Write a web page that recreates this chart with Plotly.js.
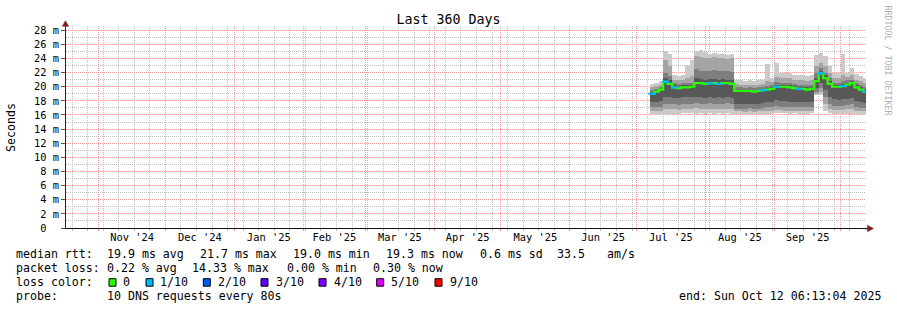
<!DOCTYPE html>
<html><head><meta charset="utf-8">
<script src="https://cdn.plot.ly/plotly-3.0.1.min.js"></script>
<style>html,body{margin:0;padding:0;background:#fff;}#chart{width:897px;height:310px;}</style>
</head><body><div id="chart"></div>
<script>
// ---- data (ms), 2-day bins ----
const dates = ['2025-07-08','2025-07-10','2025-07-12','2025-07-14','2025-07-16','2025-07-18','2025-07-20','2025-07-22','2025-07-24','2025-07-26','2025-07-28','2025-07-30',
'2025-08-01','2025-08-03','2025-08-05','2025-08-07','2025-08-09','2025-08-11','2025-08-13','2025-08-15','2025-08-17','2025-08-19','2025-08-21','2025-08-23','2025-08-25','2025-08-27','2025-08-29','2025-08-31',
'2025-09-02','2025-09-04','2025-09-06','2025-09-08','2025-09-10','2025-09-12','2025-09-14','2025-09-16','2025-09-18','2025-09-20','2025-09-22','2025-09-24','2025-09-26','2025-09-28','2025-09-30',
'2025-10-02','2025-10-04','2025-10-06','2025-10-08','2025-10-10','2025-10-12'];
const pingMax = [20.4,20.6,20.8,25.0,24.6,21.6,21.5,21.7,23.1,23.8,25.1,25.2, 24.9,24.7,24.8,24.6,24.7,24.5,24.6,21.0,20.9,20.8,20.9,20.8,20.9,21.0,23.2,21.3, 23.3,22.0,21.9,21.9,21.7,21.6,21.6,21.5,21.7,24.5,24.8,24.3,23.0,22.0,22.0, 24.7,22.0,22.6,21.8,21.5,21.3];
const ping9   = [19.9,20.1,20.3,23.8,23.0,21.0,20.9,21.0,21.3,21.5,24.3,24.2, 24.1,24.0,24.2,24.0,24.1,23.9,24.0,20.4,20.3,20.3,20.2,20.3,20.3,20.4,20.8,20.7, 21.4,21.3,21.2,21.2,21.0,20.9,20.9,20.8,20.9,23.0,23.4,23.0,22.0,21.3,21.2, 21.6,21.4,21.6,21.0,20.8,20.6];
const ping8   = [19.5,19.7,20.0,22.0,21.5,20.5,20.4,20.5,20.6,20.6,22.5,22.3, 22.2,22.3,22.4,22.2,22.3,22.2,22.1,19.9,19.9,19.8,19.9,19.8,19.9,19.9,20.1,20.2, 20.7,20.6,20.6,20.5,20.4,20.3,20.3,20.2,20.3,22.0,22.6,22.0,21.2,20.6,20.6, 20.8,20.9,21.0,20.5,20.2,20.0];
const ping7   = [19.2,19.5,19.8,21.2,20.9,20.2,20.1,20.2,20.2,20.3,21.2,21.1, 21.0,21.1,21.1,21.0,21.1,21.0,21.0,19.6,19.6,19.6,19.6,19.5,19.6,19.7,19.8,19.9, 20.3,20.3,20.2,20.2,20.1,20.0,19.9,19.9,20.0,21.3,22.2,21.6,20.8,20.3,20.3, 20.4,20.6,20.8,20.2,19.9,19.7];
const median  = [19.0,19.3,19.6,20.7,20.4,19.9,19.8,19.9,19.9,20.0,20.5,20.5, 20.4,20.5,20.5,20.4,20.5,20.5,20.4,19.4,19.4,19.4,19.4,19.3,19.4,19.5,19.6,19.7, 20.0,20.0,20.0,19.9,19.8,19.7,19.7,19.6,19.7,20.8,21.9,21.2,20.4,20.0,20.0, 20.1,20.3,20.5,19.9,19.6,19.35];
const ping4   = [17.8,17.8,18.0,18.6,18.5,18.4,18.4,18.5,18.5,18.5,18.6,18.5, 18.4,18.5,18.4,18.5,18.4,18.5,18.4,17.6,17.6,17.5,17.6,17.5,17.6,17.7,17.8,17.9, 18.1,18.0,18.0,17.9,17.9,17.8,17.8,17.8,17.9,19.8,20.5,19.5,18.6,18.2,18.1, 18.2,18.3,18.4,18.0,17.8,17.7];
const ping3   = [17.1,17.1,17.2,17.6,17.6,17.5,17.4,17.5,17.5,17.6,17.7,17.6, 17.6,17.7,17.6,17.6,17.6,17.7,17.6,16.9,16.9,16.9,17.0,16.9,16.9,17.0,17.1,17.1, 17.3,17.2,17.2,17.2,17.1,17.1,17.1,17.1,17.2,19.3,19.8,18.6,17.6,17.3,17.3, 17.3,17.4,17.5,17.2,17.0,17.0];
const ping2   = [16.6,16.5,16.6,16.8,16.9,16.8,16.7,16.8,16.8,16.9,17.0,16.9, 16.9,16.9,16.8,16.9,16.9,16.9,16.8,16.5,16.5,16.4,16.5,16.4,16.5,16.5,16.6,16.6, 16.7,16.7,16.6,16.6,16.6,16.6,16.5,16.5,16.6,19.0,19.3,17.6,16.9,16.7,16.7, 16.7,16.8,16.8,16.6,16.5,16.5];
const pingMin = [16.1,16.0,16.0,16.0,16.1,16.2,16.2,16.3,16.3,16.3,16.2,16.3, 16.2,16.3,16.2,16.3,16.2,16.3,16.2,16.1,16.2,16.1,16.2,16.1,16.2,16.2,16.2,16.2, 16.3,16.3,16.3,16.2,16.3,16.2,16.2,16.2,16.3,18.8,18.9,16.5,16.3,16.1,16.1, 16.1,16.2,16.2,16.1,16.0,16.0];
const lossTenths = [1,0,0,1,0,1,0,0,0,0,0,0, 0,1,0,1,0,0,0,0,0,0,0,0,0,1,0,0, 1,0,0,0,0,1,0,0,0,0,1,0,0,0,0, 1,0,0,0,0,1];

const yTickVals = [0,2,4,6,8,10,12,14,16,18,20,22,24,26,28];
const yTickText = ['0\u00a0\u00a0','2 m','4 m','6 m','8 m','10 m','12 m','14 m','16 m','18 m','20 m','22 m','24 m','26 m','28 m'];

const lossLabels = ['0','1/10','2/10','3/10','4/10','5/10','9/10'];
const lossColors = ['#26ff00','#00b8ff','#0059ff','#5e00ff','#7e00ff','#dd00ff','#ff0000'];
const statsRtt = ['median rtt:','19.9 ms avg','21.7 ms max','19.0 ms min','19.3 ms now','0.6 ms sd','33.5','am/s'];
const statsLoss = ['packet loss:','0.22 % avg','14.33 % max','0.00 % min','0.30 % now'];

// ---- layout helpers ----
const DAY = 86400000;
const L = 66, T = 26, W = 800, H = 202;
const px = x => (x - L) / W;
const py = y => (T + H - y) / H;
const mono = 'DejaVu Sans Mono, monospace';
const nb = s => s.replace(/ /g, '\u00a0');

const layers = [[pingMin, pingMax, '#cacaca'], [ping2, ping9, '#a4a4a4'], [ping3, ping8, '#7e7e7e'], [ping4, ping7, '#585858']];
const traces = layers.map(([lo, hi, c]) => ({
  type: 'bar', x: dates, base: lo, y: hi.map((v, i) => v - lo[i]), width: 2 * DAY,
  marker: {color: c, line: {width: 0}}, hoverinfo: 'skip', showlegend: false
}));
traces.push({type: 'scatter', mode: 'lines', x: dates, y: median,
  line: {color: lossColors[0], width: 2.2, shape: 'hvh'}, hoverinfo: 'skip', showlegend: false});
traces.push({type: 'scatter', mode: 'markers',
  x: dates.filter((d, i) => lossTenths[i] > 0), y: median.filter((v, i) => lossTenths[i] > 0),
  marker: {symbol: 'line-ew-open', size: 5, color: lossColors[1], line: {color: lossColors[1], width: 2.2}},
  hoverinfo: 'skip', showlegend: false});

const majorGrid = 'rgb(242,150,150)', minorGrid = '#c0c0c0';
const ann = [];
const txt = (x, y, s, extra) => ann.push(Object.assign({xref: 'paper', yref: 'paper', x: px(x), y: py(y), text: nb(s),
  showarrow: false, xanchor: 'left', yanchor: 'middle', borderpad: 0, font: {family: mono, size: 11.6, color: '#000'}}, extra || {}));

[15.4, 105.8, 198.8, 292, 385.4, 478.5, 556.4, 605.8].forEach((x, i) => txt(x, 254.3, statsRtt[i]));
[15.4, 106.2, 191.4, 285.9, 371.5].forEach((x, i) => txt(x, 268.2, statsLoss[i]));
txt(15.4, 282.3, 'loss color:');
const boxX = [109, 146, 203.3, 261, 319, 376.7, 435];
const labX = [122.4, 158.9, 217.3, 275.1, 332.5, 390.1, 449.1];
const shapes = [];
lossLabels.forEach((s, i) => {
  txt(labX[i], 282.3, s);
  shapes.push({type: 'rect', xref: 'paper', yref: 'paper', x0: px(boxX[i]), x1: px(boxX[i] + 7), y0: py(286.2), y1: py(278.7),
    fillcolor: lossColors[i], line: {color: '#000', width: 1}});
});
txt(15.4, 295.6, 'probe:');
txt(105.7, 295.6, '10 DNS requests every 80s');
txt(677.5, 295.6, 'end: Sun Oct 12 06:13:04 2025');
ann.push({xref: 'paper', yref: 'paper', x: px(11), y: 0.5, text: 'Seconds', textangle: -90, showarrow: false,
  xanchor: 'center', yanchor: 'middle', font: {family: mono, size: 11.6, color: '#000'}});
ann.push({xref: 'paper', yref: 'paper', x: px(887.5), y: py(60), text: nb('RRDTOOL / TOBI OETIKER'), textangle: 90, showarrow: false,
  xanchor: 'center', yanchor: 'middle', font: {family: mono, size: 8.3, color: '#b0b0b0'}});

const arrowCol = '#7f1f1f';
shapes.push({type: 'line', xref: 'paper', yref: 'paper', x0: px(866), x1: px(869), y0: py(228.5), y1: py(228.5), line: {color: '#111', width: 1}});
shapes.push({type: 'path', xref: 'paper', yref: 'paper', path: `M ${px(873.5)} ${py(228.5)} L ${px(867.5)} ${py(225.3)} L ${px(867.5)} ${py(231.7)} Z`,
  fillcolor: arrowCol, line: {color: arrowCol, width: 0.5}});
shapes.push({type: 'line', xref: 'paper', yref: 'paper', x0: px(65.5), x1: px(65.5), y0: py(26), y1: py(24), line: {color: '#222', width: 1}});
shapes.push({type: 'path', xref: 'paper', yref: 'paper', path: `M ${px(65.5)} ${py(20.7)} L ${px(62.3)} ${py(26.3)} L ${px(68.7)} ${py(26.3)} Z`,
  fillcolor: arrowCol, line: {color: arrowCol, width: 0.5}});

const layout = {
  width: 897, height: 310, margin: {l: L, r: 897 - L - W, t: T, b: 310 - T - H},
  paper_bgcolor: '#fff', plot_bgcolor: '#fff', barmode: 'overlay', bargap: 0, hovermode: false, showlegend: false,
  font: {family: mono, size: 10.4, color: '#000'},
  title: {text: 'Last 360 Days', font: {family: mono, size: 13.3, color: '#000'}, x: 0.5, xanchor: 'center', xref: 'container',
    y: 1 - 19 / 310, yanchor: 'middle'},
  xaxis: {type: 'date', range: ['2024-10-17 06:13:04', '2025-10-12 06:13:04'], dtick: 'M1', tick0: '2024-11-01',
    tickformat: "%b '%y", ticklabelmode: 'period', showgrid: true, gridcolor: majorGrid, griddash: '1px,1px', gridwidth: 1,
    showline: true, linecolor: '#111', linewidth: 1, ticks: 'outside', ticklen: 2, tickcolor: majorGrid, zeroline: false,
    ticklabelstandoff: -2,
    tickfont: {family: mono, size: 10.4, color: '#000'}, fixedrange: true,
    minor: {dtick: 7 * DAY, tick0: '2024-10-20', showgrid: true, gridcolor: minorGrid, griddash: '1px,1px', gridwidth: 1,
      ticks: 'outside', ticklen: 2, tickcolor: minorGrid}},
  yaxis: {range: [0, 28.6], tickmode: 'array', tickvals: yTickVals, ticktext: yTickText, showgrid: true, gridcolor: majorGrid,
    griddash: '1px,1px', gridwidth: 1, showline: true, linecolor: '#222', linewidth: 1, ticks: 'outside', ticklen: 4,
    tickcolor: '#555', zeroline: false, tickfont: {family: mono, size: 10.4, color: '#000'}, fixedrange: true,
    minor: {dtick: 1, showgrid: true, gridcolor: minorGrid, griddash: '1px,1px', gridwidth: 1}},
  shapes: shapes, annotations: ann
};
Plotly.newPlot('chart', traces, layout, {displayModeBar: false, staticPlot: true});
</script></body></html>
